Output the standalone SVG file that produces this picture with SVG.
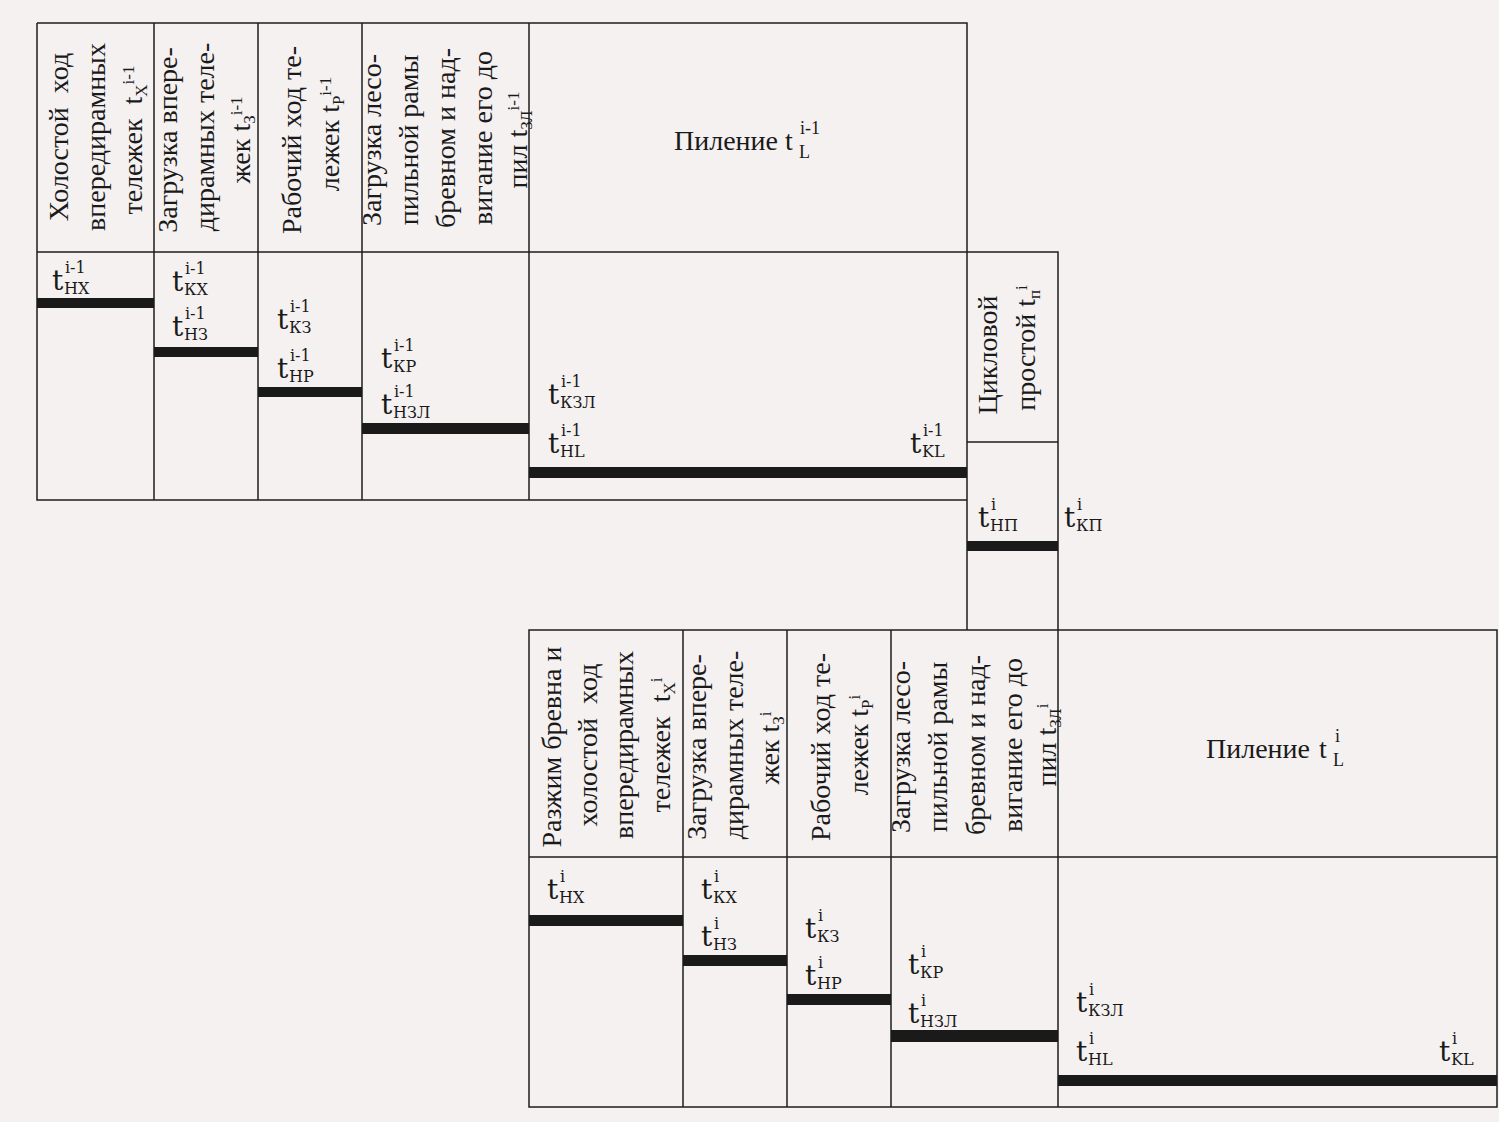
<svg xmlns="http://www.w3.org/2000/svg" width="1499" height="1122" viewBox="0 0 1499 1122" font-family="'Liberation Serif','Times New Roman',serif">
<style>
.ln{stroke:#1e1e1e;stroke-width:1.5;fill:none}
.bar{fill:#1a1a1a}
text{fill:#1a1a1a}
.h{font-family:'Liberation Serif','Times New Roman',serif;font-size:28px}
.s{font-size:17px}
.t{font-family:'DejaVu Serif','Liberation Serif',serif;font-size:28px}
.sc{font-family:'DejaVu Serif','Liberation Serif',serif;font-size:16px}
.ts{font-family:'Liberation Serif','Times New Roman',serif;font-size:18px}
</style>
<rect x="0" y="0" width="1499" height="1122" fill="#f5f1f1"/>
<g id="connectors">
<path class="ln" d="M37,23 H967 V630 M37,23 V500 H967 M37,252 H1058 V1107 M154,23 V500 M258,23 V500 M362,23 V500 M529,23 V500 M967,442 H1058 M529,630 H1497 V1107 H529 Z M529,857 H1497 M683,630 V1107 M787,630 V1107 M891,630 V1107"/>
</g>
<g id="bars">
<rect class="bar" x="37" y="298" width="117" height="10"/>
<rect class="bar" x="154" y="347" width="104" height="10"/>
<rect class="bar" x="258" y="387" width="104" height="10"/>
<rect class="bar" x="362" y="423" width="167" height="11"/>
<rect class="bar" x="529" y="467" width="438" height="11"/>
<rect class="bar" x="967" y="541" width="91" height="10"/>
<rect class="bar" x="529" y="915" width="154" height="11"/>
<rect class="bar" x="683" y="955" width="104" height="11"/>
<rect class="bar" x="787" y="994" width="104" height="11"/>
<rect class="bar" x="891" y="1030" width="167" height="12"/>
<rect class="bar" x="1058" y="1075" width="439" height="11"/>
</g>
<g id="top-col1">
<text class="h" text-anchor="middle" transform="translate(68,137) rotate(-90)">Холостой&#160; ход</text>
<text class="h" text-anchor="middle" transform="translate(105,137) rotate(-90)">впередирамных</text>
<text class="h" text-anchor="middle" transform="translate(142,140) rotate(-90)">тележек&#160; t<tspan class="s" dy="5">X</tspan><tspan class="s" dy="-13">i-1</tspan></text>
<text class="t" x="52" y="290">t</text><text class="sc" x="65" y="273">i-1</text><text class="sc" x="64" y="294">НХ</text>
</g>
<g id="top-col2">
<text class="h" text-anchor="middle" transform="translate(177,140) rotate(-90)">Загрузка впере-</text>
<text class="h" text-anchor="middle" transform="translate(214,137) rotate(-90)">дирамных теле-</text>
<text class="h" text-anchor="middle" transform="translate(250,140) rotate(-90)">жек t<tspan class="s" dy="5">З</tspan><tspan class="s" dy="-13">i-1</tspan></text>
<text class="t" x="172" y="291">t</text><text class="sc" x="185" y="274">i-1</text><text class="sc" x="184" y="295">КХ</text>
<text class="t" x="172" y="336">t</text><text class="sc" x="185" y="319">i-1</text><text class="sc" x="184" y="340">НЗ</text>
</g>
<g id="top-col3">
<text class="h" text-anchor="middle" transform="translate(301,140) rotate(-90)">Рабочий ход те-</text>
<text class="h" text-anchor="middle" transform="translate(339,134) rotate(-90)">лежек t<tspan class="s" dy="5">P</tspan><tspan class="s" dy="-13">i-1</tspan></text>
<text class="t" x="277" y="329">t</text><text class="sc" x="290" y="312">i-1</text><text class="sc" x="289" y="333">КЗ</text>
<text class="t" x="277" y="378">t</text><text class="sc" x="290" y="361">i-1</text><text class="sc" x="289" y="382">НР</text>
</g>
<g id="top-col4">
<text class="h" text-anchor="middle" transform="translate(381,140) rotate(-90)">Загрузка лесо-</text>
<text class="h" text-anchor="middle" transform="translate(418,140) rotate(-90)">пильной рамы</text>
<text class="h" text-anchor="middle" transform="translate(455,138) rotate(-90)">бревном и над-</text>
<text class="h" text-anchor="middle" transform="translate(492,138) rotate(-90)">вигание его до</text>
<text class="h" text-anchor="middle" transform="translate(527,140) rotate(-90)">пил t<tspan class="s" dy="5">ЗЛ</tspan><tspan class="s" dy="-13">i-1</tspan></text>
<text class="t" x="381" y="368">t</text><text class="sc" x="394" y="351">i-1</text><text class="sc" x="393" y="372">КР</text>
<text class="t" x="381" y="414">t</text><text class="sc" x="394" y="397">i-1</text><text class="sc" x="393" y="418">НЗЛ</text>
</g>
<g id="top-col5">
<text class="h" x="674" y="150">Пиление</text><text class="h" x="785" y="150" font-size="29">t</text><text class="ts" x="800" y="134">i-1</text><text class="ts" x="799" y="158">L</text>
<text class="t" x="548" y="404">t</text><text class="sc" x="561" y="387">i-1</text><text class="sc" x="560" y="408">КЗЛ</text>
<text class="t" x="548" y="453">t</text><text class="sc" x="561" y="436">i-1</text><text class="sc" x="560" y="457">HL</text>
<text class="t" x="910" y="453">t</text><text class="sc" x="923" y="436">i-1</text><text class="sc" x="922" y="457">KL</text>
</g>
<g id="idle">
<text class="h" text-anchor="middle" transform="translate(997,355) rotate(-90)">Цикловой</text>
<text class="h" text-anchor="middle" transform="translate(1035,348) rotate(-90)">простой t<tspan class="s" dy="5">п</tspan><tspan class="s" dy="-13">i</tspan></text>
<text class="t" x="978" y="527">t</text><text class="sc" x="991" y="510">i</text><text class="sc" x="990" y="531">НП</text>
<text class="t" x="1064" y="527">t</text><text class="sc" x="1077" y="510">i</text><text class="sc" x="1076" y="531">КП</text>
</g>
<g id="bot-col1">
<text class="h" text-anchor="middle" transform="translate(561,747) rotate(-90)">Разжим бревна и</text>
<text class="h" text-anchor="middle" transform="translate(597,745) rotate(-90)">холостой&#160; ход</text>
<text class="h" text-anchor="middle" transform="translate(633,745) rotate(-90)">впередирамных</text>
<text class="h" text-anchor="middle" transform="translate(670,745) rotate(-90)">тележек&#160; t<tspan class="s" dy="5">X</tspan><tspan class="s" dy="-13">i</tspan></text>
<text class="t" x="547" y="899">t</text><text class="sc" x="560" y="882">i</text><text class="sc" x="559" y="903">НХ</text>
</g>
<g id="bot-col2">
<text class="h" text-anchor="middle" transform="translate(706,747) rotate(-90)">Загрузка впере-</text>
<text class="h" text-anchor="middle" transform="translate(743,745) rotate(-90)">дирамных теле-</text>
<text class="h" text-anchor="middle" transform="translate(779,748) rotate(-90)">жек t<tspan class="s" dy="5">З</tspan><tspan class="s" dy="-13">i</tspan></text>
<text class="t" x="701" y="899">t</text><text class="sc" x="714" y="882">i</text><text class="sc" x="713" y="903">КХ</text>
<text class="t" x="701" y="946">t</text><text class="sc" x="714" y="929">i</text><text class="sc" x="713" y="950">НЗ</text>
</g>
<g id="bot-col3">
<text class="h" text-anchor="middle" transform="translate(830,747) rotate(-90)">Рабочий ход те-</text>
<text class="h" text-anchor="middle" transform="translate(868,745) rotate(-90)">лежек t<tspan class="s" dy="5">P</tspan><tspan class="s" dy="-13">i</tspan></text>
<text class="t" x="805" y="938">t</text><text class="sc" x="818" y="921">i</text><text class="sc" x="817" y="942">КЗ</text>
<text class="t" x="805" y="985">t</text><text class="sc" x="818" y="968">i</text><text class="sc" x="817" y="989">НР</text>
</g>
<g id="bot-col4">
<text class="h" text-anchor="middle" transform="translate(910,747) rotate(-90)">Загрузка лесо-</text>
<text class="h" text-anchor="middle" transform="translate(947,747) rotate(-90)">пильной рамы</text>
<text class="h" text-anchor="middle" transform="translate(985,745) rotate(-90)">бревном и над-</text>
<text class="h" text-anchor="middle" transform="translate(1022,745) rotate(-90)">вигание его до</text>
<text class="h" text-anchor="middle" transform="translate(1056,745) rotate(-90)">пил t<tspan class="s" dy="5">ЗЛ</tspan><tspan class="s" dy="-13">i</tspan></text>
<text class="t" x="908" y="974">t</text><text class="sc" x="921" y="957">i</text><text class="sc" x="920" y="978">КР</text>
<text class="t" x="908" y="1023">t</text><text class="sc" x="921" y="1006">i</text><text class="sc" x="920" y="1027">НЗЛ</text>
</g>
<g id="bot-col5">
<text class="h" x="1206" y="758">Пиление</text><text class="h" x="1319" y="758" font-size="29">t</text><text class="ts" x="1335" y="742">i</text><text class="ts" x="1333" y="766">L</text>
<text class="t" x="1076" y="1012">t</text><text class="sc" x="1089" y="995">i</text><text class="sc" x="1088" y="1016">КЗЛ</text>
<text class="t" x="1076" y="1061">t</text><text class="sc" x="1089" y="1044">i</text><text class="sc" x="1088" y="1065">HL</text>
<text class="t" x="1439" y="1061">t</text><text class="sc" x="1452" y="1044">i</text><text class="sc" x="1451" y="1065">KL</text>
</g>
</svg>
